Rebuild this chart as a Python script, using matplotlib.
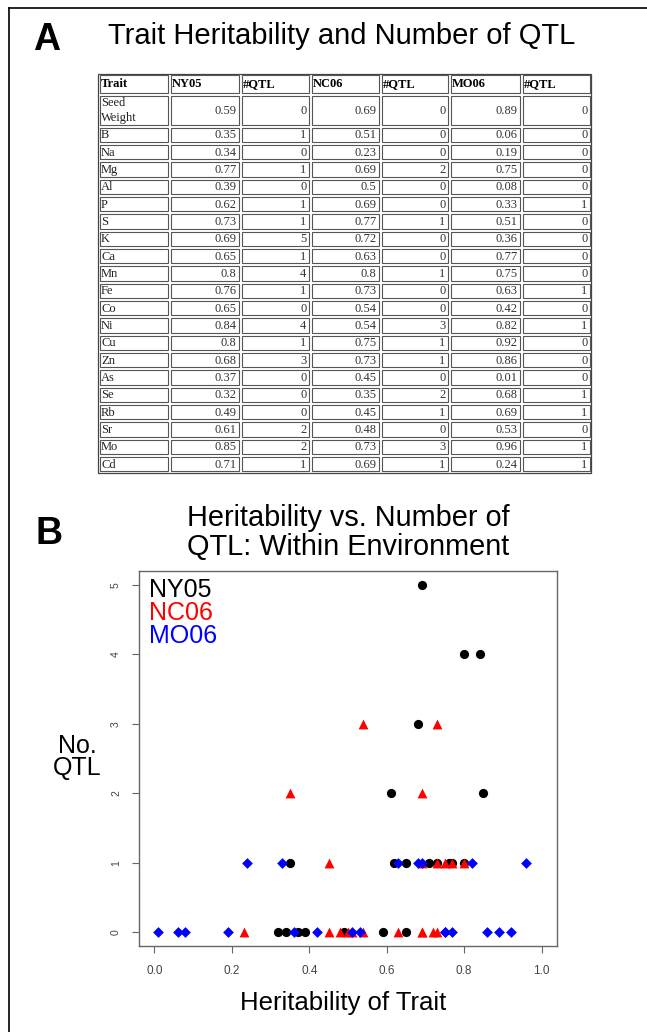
import matplotlib
matplotlib.use("Agg")
import matplotlib.pyplot as plt
from matplotlib.patches import Rectangle

# ---------------- data ----------------
traits = ["Seed\nWeight", "B", "Na", "Mg", "Al", "P", "S", "K", "Ca", "Mn", "Fe",
          "Co", "Ni", "Cu", "Zn", "As", "Se", "Rb", "Sr", "Mo", "Cd"]
ny05_h = [0.59, 0.35, 0.34, 0.77, 0.39, 0.62, 0.73, 0.69, 0.65, 0.8, 0.76,
          0.65, 0.84, 0.8, 0.68, 0.37, 0.32, 0.49, 0.61, 0.85, 0.71]
ny05_q = [0, 1, 0, 1, 0, 1, 1, 5, 1, 4, 1, 0, 4, 1, 3, 0, 0, 0, 2, 2, 1]
nc06_h = [0.69, 0.51, 0.23, 0.69, 0.5, 0.69, 0.77, 0.72, 0.63, 0.8, 0.73,
          0.54, 0.54, 0.75, 0.73, 0.45, 0.35, 0.45, 0.48, 0.73, 0.69]
nc06_q = [0, 0, 0, 2, 0, 0, 1, 0, 0, 1, 0, 0, 3, 1, 1, 0, 2, 1, 0, 3, 1]
mo06_h = [0.89, 0.06, 0.19, 0.75, 0.08, 0.33, 0.51, 0.36, 0.77, 0.75, 0.63,
          0.42, 0.82, 0.92, 0.86, 0.01, 0.68, 0.69, 0.53, 0.96, 0.24]
mo06_q = [0, 0, 0, 0, 0, 1, 0, 0, 0, 0, 1, 0, 1, 0, 0, 0, 1, 1, 0, 1, 1]
headers = ["Trait", "NY05", "#QTL", "NC06", "#QTL", "MO06", "#QTL"]
env_names = ["NY05", "NC06", "MO06"]
env_colors = ["black", "red", "blue"]
env_markers = ["o", "^", "D"]
x_ticks = [0.0, 0.2, 0.4, 0.6, 0.8, 1.0]
y_ticks = [0, 1, 2, 3, 4, 5]

W, H = 647, 1032
fig = plt.figure(figsize=(W / 100, H / 100), dpi=100)
sans = "Liberation Sans"
serif = "Liberation Serif"

# overlay in pixel coordinates
ov = fig.add_axes([0, 0, 1, 1])
ov.set_xlim(0, W)
ov.set_ylim(H, 0)
ov.axis("off")

# outer frame (left + top)
ov.plot([9, 9], [H, 8], color="black", lw=1.2)
ov.plot([9, W], [8, 8], color="black", lw=1.2)

# panel A
ov.text(33, 50, "A", fontsize=27, fontweight="bold", family=sans, va="baseline", ha="left")
ov.text(342, 44, "Trait Heritability and Number of QTL", fontsize=21, family=sans,
        va="baseline", ha="center")

# table
col_x = [98, 169, 240, 310, 380, 449, 521, 591]
row_y = [73.5, 94, 126]
for i in range(20):
    row_y.append(126 + (472.7 - 126) * (i + 1) / 20)

def cell_rect(x0, x1, y0, y1):
    ov.add_patch(Rectangle((x0 + 1.5, y0 + 1.5), x1 - x0 - 3, y1 - y0 - 3,
                           fill=False, lw=0.8, ec="#555555"))

ov.add_patch(Rectangle((col_x[0], row_y[0]), col_x[-1] - col_x[0], row_y[-1] - row_y[0],
                       fill=False, lw=0.9, ec="#444444"))

tfs = 9
for c in range(7):
    x0, x1 = col_x[c], col_x[c + 1]
    y0, y1 = row_y[0], row_y[1]
    cell_rect(x0, x1, y0, y1)
    ov.text(x0 + 3, (y0 + y1) / 2 + 0.5, headers[c], fontsize=tfs, fontweight="bold",
            family=serif, va="center", ha="left")

for r in range(len(traits)):
    y0, y1 = row_y[r + 1], row_y[r + 2]
    yc = (y0 + y1) / 2 + 0.5
    vals = [traits[r], ny05_h[r], ny05_q[r], nc06_h[r], nc06_q[r], mo06_h[r], mo06_q[r]]
    for c in range(7):
        x0, x1 = col_x[c], col_x[c + 1]
        cell_rect(x0, x1, y0, y1)
        if c == 0:
            ov.text(x0 + 3, yc, vals[c], fontsize=tfs, family=serif, va="center",
                    ha="left", linespacing=1.4, color="#222222")
        else:
            ov.text(x1 - 3.5, yc, str(vals[c]), fontsize=tfs, family=serif,
                    va="center", ha="right", color="#333333")

# panel B
ov.text(35, 544, "B", fontsize=27, fontweight="bold", family=sans, va="baseline", ha="left")
ov.text(348, 526, "Heritability vs. Number of", fontsize=20.8,
        family=sans, va="baseline", ha="center")
ov.text(348, 555, "QTL: Within Environment", fontsize=20.8,
        family=sans, va="baseline", ha="center")
ov.text(77, 753, "No.", fontsize=18, family=sans, va="baseline", ha="center")
ov.text(77, 775, "QTL", fontsize=18, family=sans, va="baseline", ha="center")
ov.text(343, 1010, "Heritability of Trait", fontsize=18.5, family=sans, va="baseline",
        ha="center")

# scatter axes
l, r_, t, b = 139, 557, 571, 946
ax = fig.add_axes([l / W, 1 - b / H, (r_ - l) / W, (b - t) / H])
sizes = {"o": 44, "^": 50, "D": 30}
for h, q, col, mk in zip([ny05_h, nc06_h, mo06_h], [ny05_q, nc06_q, mo06_q],
                         env_colors, env_markers):
    ax.scatter(h, q, s=sizes[mk], c=col, marker=mk, linewidths=0, zorder=3)
ax.set_xlim(-0.04, 1.04)
ax.set_ylim(-0.2, 5.2)
ax.set_xticks(x_ticks)
ax.set_xticklabels([f"{v:.1f}" for v in x_ticks], fontsize=8.5, color="#444444", family=sans)
ax.set_yticks(y_ticks)
ax.set_yticklabels([str(v) for v in y_ticks], fontsize=7.5, color="#444444", family=sans,
                   rotation=90, va="center")
ax.tick_params(axis="x", length=5, width=0.8, color="#666666", pad=9)
ax.tick_params(axis="y", length=5, width=0.8, color="#666666", pad=8)
for s in ax.spines.values():
    s.set_color("#666666")
    s.set_linewidth(1.0)

# legend text (drawn in pixel coordinates on top of the scatter axes)
for i, (name, col) in enumerate(zip(env_names, env_colors)):
    ax.text(149, 597 + i * 23.2, name, color=col, fontsize=18, family=sans,
            va="baseline", ha="left", transform=ov.transData, clip_on=False, zorder=5)

fig.savefig("out.png", dpi=100)
